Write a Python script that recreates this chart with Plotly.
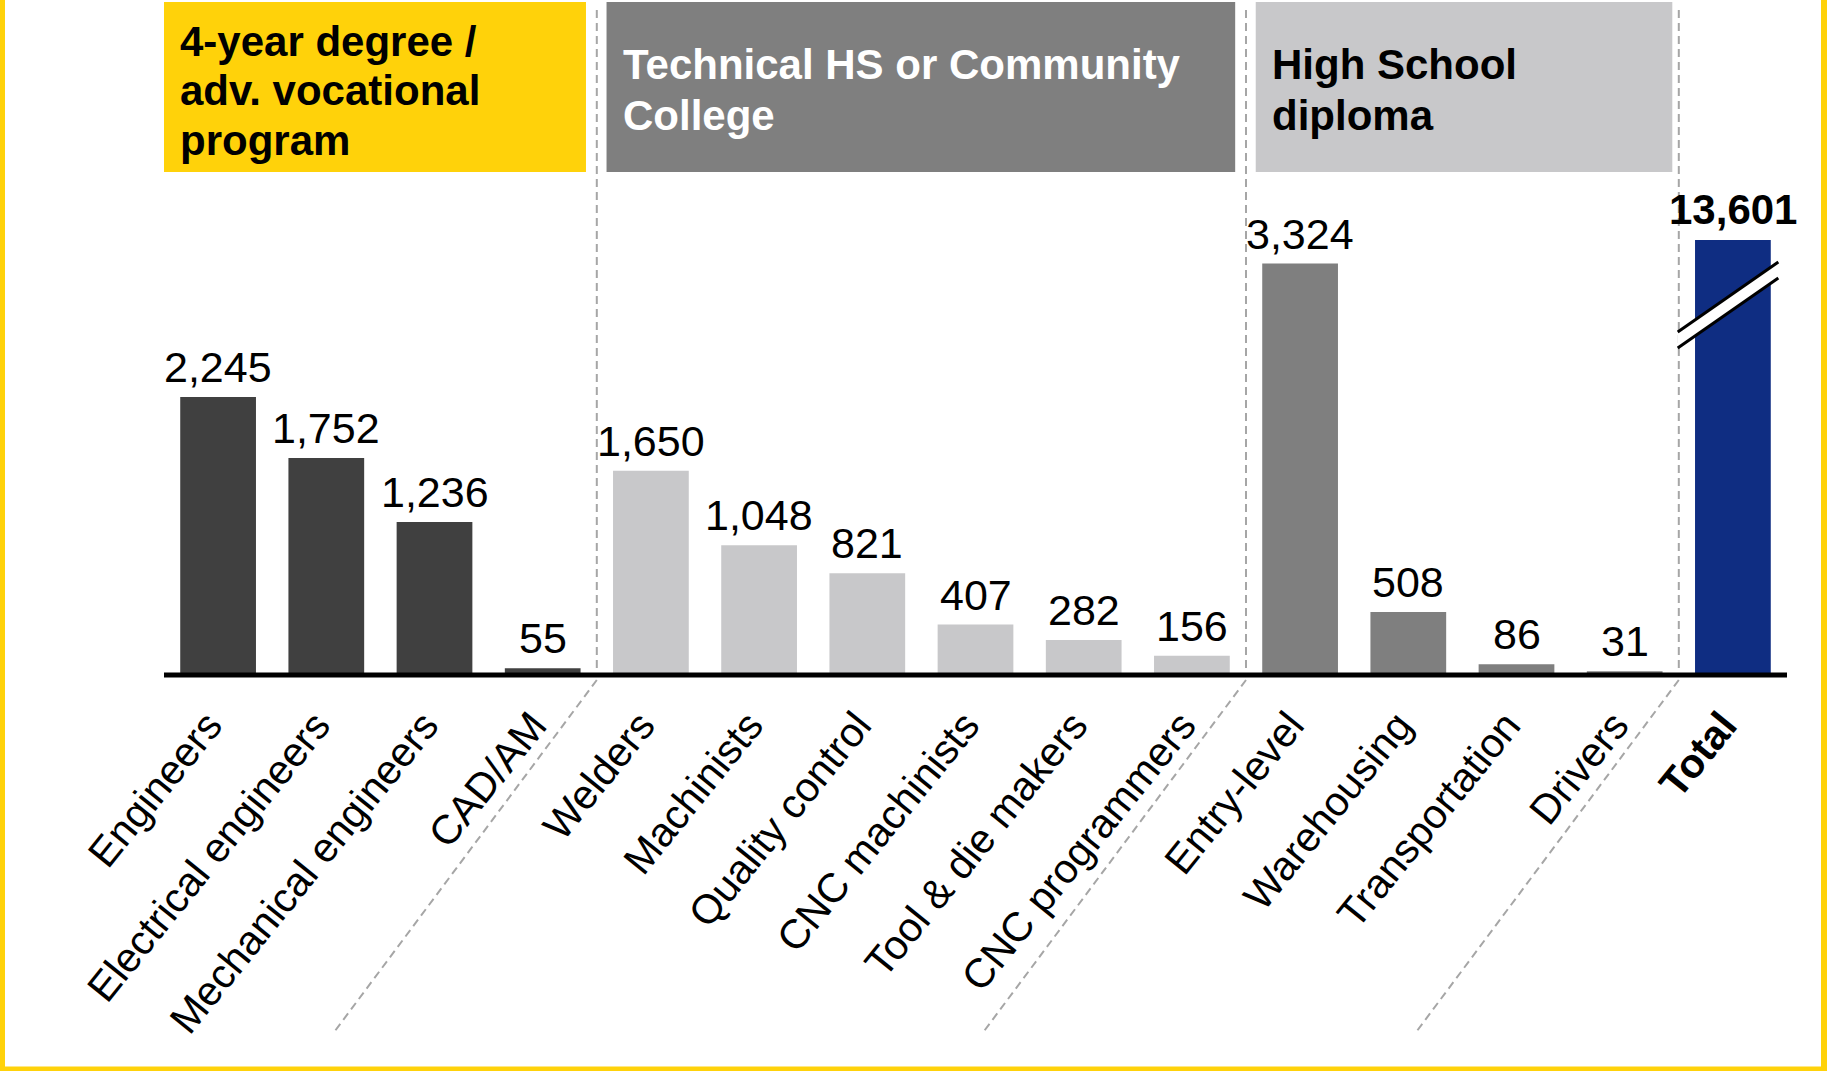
import plotly.graph_objects as go

# ---- data -------------------------------------------------------------
categories = [
    "Engineers", "Electrical engineers", "Mechanical engineers", "CAD/AM",
    "Welders", "Machinists", "Quality control", "CNC machinists",
    "Tool & die makers", "CNC programmers",
    "Entry-level", "Warehousing", "Transportation", "Drivers", "Total",
]
values = [2245, 1752, 1236, 55, 1650, 1048, 821, 407, 282, 156,
          3324, 508, 86, 31, 13601]
group_of = [0, 0, 0, 0, 1, 1, 1, 1, 1, 1, 2, 2, 2, 2, 3]
group_titles = [
    ["4-year degree /", "adv. vocational", "program"],
    ["Technical HS or Community", "College"],
    ["High School", "diploma"],
]

# ---- styling ----------------------------------------------------------
FONT = "Liberation Sans, Arial, sans-serif"
bar_colors = ["#404040", "#C8C8CA", "#7F7F7F", "#0F2D82"]
header_fill = ["#FFD20A", "#7F7F7F", "#C8C8CA"]
header_text = ["#000000", "#FFFFFF", "#000000"]
FRAME = "#FFD20A"
DASH_COLOR = "#A6A6A6"

W, H = 1827, 1071
ML, MR, MT, MB = 164, 40, 240, 396
PW, PH = W - ML - MR, H - MT - MB
N = len(categories)
Y_TOP = 3514  # axis is cut here; the total bar runs past it


def px_x(px):
    return (px - ML) / PW


def px_y(py):
    return (H - MB - py) / PH


def cat_x(u):
    """category-unit position (0 = first bar centre) -> paper x"""
    return (u + 0.5) / N


fig = go.Figure()
fig.add_trace(go.Bar(
    x=categories,
    y=values,
    marker=dict(color=[bar_colors[g] for g in group_of], line=dict(width=0)),
    hoverinfo="skip",
))

annotations = []
# value labels above each bar
for c, v in zip(categories, values):
    if c == "Total":
        annotations.append(dict(
            x=c, y=1, xref="x", yref="paper", text=f"<b>{v:,}</b>",
            showarrow=False, yanchor="bottom", yshift=5,
            font=dict(family=FONT, size=42, color="black"),
        ))
    else:
        annotations.append(dict(
            x=c, y=v, xref="x", yref="y", text=f"{v:,}",
            showarrow=False, yanchor="bottom", yshift=4,
            font=dict(family=FONT, size=43, color="black"),
        ))

shapes = []
# group header boxes, one annotation per text line
box_spans = [(-0.5, 3.4), (3.59, 9.4), (9.59, 13.44)]
line_centres = [[41, 90, 140], [64, 115], [64, 115]]
box_top, box_bot = px_y(2), px_y(172)
for k, (a, b) in enumerate(box_spans):
    shapes.append(dict(type="rect", xref="paper", yref="paper",
                       x0=cat_x(a), x1=cat_x(b), y0=box_bot, y1=box_top,
                       fillcolor=header_fill[k], line=dict(width=0),
                       layer="below"))
    for line, yc in zip(group_titles[k], line_centres[k]):
        annotations.append(dict(
            x=cat_x(a), y=px_y(yc), xref="paper", yref="paper",
            text=f"<b>{line}</b>", showarrow=False,
            xanchor="left", yanchor="middle", align="left", xshift=14,
            font=dict(family=FONT, size=42, color=header_text[k]),
        ))

# dashed group separators, continuing diagonally through the tick labels
for b in (3.5, 9.5, 13.5):
    xs = cat_x(b)
    shapes.append(dict(type="line", xref="paper", yref="paper",
                       x0=xs, x1=xs, y0=px_y(10), y1=0,
                       line=dict(color=DASH_COLOR, width=2, dash="8px,5px")))
    shapes.append(dict(type="line", xref="paper", yref="paper",
                       x0=xs, y0=px_y(680), x1=cat_x(b - 2.42), y1=px_y(1031),
                       line=dict(color=DASH_COLOR, width=2, dash="8px,5px")))

# baseline
shapes.append(dict(type="line", xref="paper", yref="paper",
                   x0=0, x1=1, y0=0, y1=0,
                   line=dict(color="black", width=5)))

# axis-break marks across the total bar
xl, xr = cat_x(13.49), cat_x(14.42)
y1a, y1b = px_y(332), px_y(262)
y2a, y2b = px_y(348), px_y(278)
shapes.append(dict(type="path", xref="paper", yref="paper",
                   path=f"M {xl},{y1a} L {xr},{y1b} L {xr},{y2b} L {xl},{y2a} Z",
                   fillcolor="white", line=dict(width=0)))
for ya, yb in ((y1a, y1b), (y2a, y2b)):
    shapes.append(dict(type="line", xref="paper", yref="paper",
                       x0=xl, y0=ya, x1=xr, y1=yb,
                       line=dict(color="black", width=3)))

# yellow frame (left, right, bottom)
shapes += [
    dict(type="line", xref="paper", yref="paper",
         x0=px_x(2.5), x1=px_x(2.5), y0=px_y(0), y1=px_y(H),
         line=dict(color=FRAME, width=5)),
    dict(type="line", xref="paper", yref="paper",
         x0=px_x(W - 3), x1=px_x(W - 3), y0=px_y(0), y1=px_y(H),
         line=dict(color=FRAME, width=6)),
    dict(type="line", xref="paper", yref="paper",
         x0=px_x(0), x1=px_x(W), y0=px_y(H - 2), y1=px_y(H - 2),
         line=dict(color=FRAME, width=5)),
]

ticktext = [f"<b>{c}</b>" if c == "Total" else c for c in categories]

fig.update_layout(
    width=W, height=H,
    margin=dict(l=ML, r=MR, t=MT, b=MB, pad=0),
    paper_bgcolor="white", plot_bgcolor="white",
    showlegend=False,
    bargap=0.3,
    font=dict(family=FONT, color="black"),
    xaxis=dict(
        type="category", range=[-0.5, N - 0.5],
        tickmode="array", tickvals=categories, ticktext=ticktext,
        tickangle=-51, tickfont=dict(family=FONT, size=41, color="black"),
        ticklabelshift=-10, ticklabelstandoff=17,
        showgrid=False, showline=False, zeroline=False, ticks="",
        automargin=False,
    ),
    yaxis=dict(range=[0, Y_TOP], visible=False, showgrid=False,
               zeroline=False, automargin=False),
    shapes=shapes,
    annotations=annotations,
)

fig.write_html("out.html")
